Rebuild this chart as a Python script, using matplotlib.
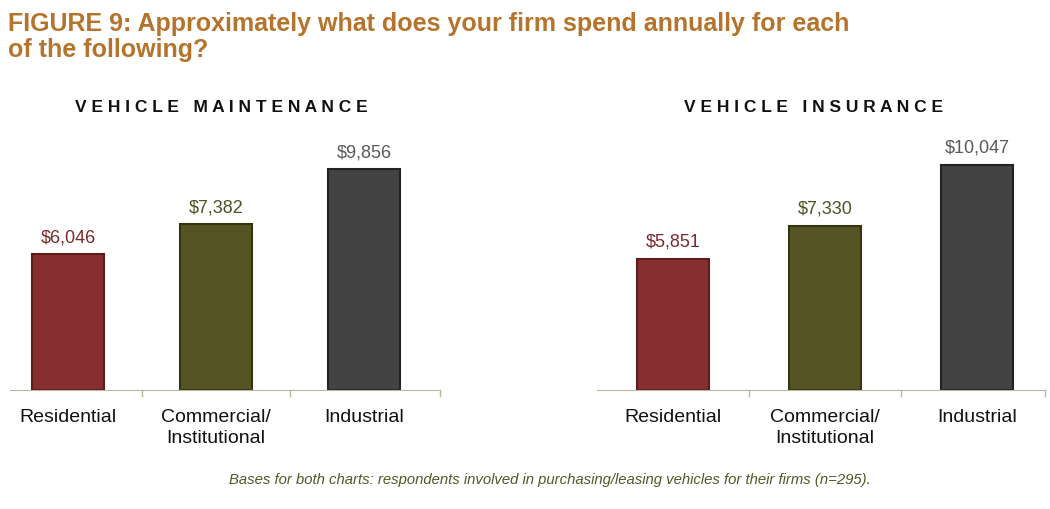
import matplotlib
matplotlib.use("Agg")
import matplotlib.pyplot as plt

categories = ["Residential", "Commercial/\nInstitutional", "Industrial"]
maintenance = [6046, 7382, 9856]
insurance = [5851, 7330, 10047]
colors = ["#872f30", "#545424", "#434343"]
value_colors = ["#7a2a2c", "#4e5224", "#5a5a5a"]

W, H = 1050, 509
fig = plt.figure(figsize=(W/100, H/100), dpi=100)
plt.rcParams["font.family"] = "Liberation Sans"

def make(px0, px1, c0, unit, vals, title, tx):
    bottom = 1 - 390/H
    height = 12000*0.02243/H
    ax = fig.add_axes([px0/W, bottom, (px1-px0)/W, height])
    xl0 = (px0-c0)/unit; xl1 = (px1-c0)/unit
    ax.set_xlim(xl0, xl1); ax.set_ylim(0, 12000)
    x = range(len(vals))
    ax.bar(x, vals, width=0.48, color=colors, edgecolor=["#5e1c1c", "#35350f", "#222222"], linewidth=1.5)
    for i, v in enumerate(vals):
        ax.text(i, v+350, f"${v:,}", ha="center", va="bottom", fontsize=13, color=value_colors[i])
    for s in ["top", "right", "left"]:
        ax.spines[s].set_visible(False)
    ax.spines["bottom"].set_color("#b8b8a0")
    ax.set_yticks([])
    ax.set_xticks(list(x))
    ax.set_xticklabels(categories, fontsize=14, color="#111111", va="top", linespacing=1.3)
    ax.tick_params(axis="x", length=0, pad=14)
    for b in [0.5, 1.5, xl1]:
        ax.plot([b, b], [0, -250], color="#b8b8a0", lw=1, clip_on=False)
    fig.text(tx/W, 1-107/H, " ".join(title), fontsize=12.5, fontweight="bold", ha="center", va="center", color="#111111")
    return ax

make(10, 440, 68, 148, maintenance, "VEHICLE MAINTENANCE", 221)
make(597, 1045, 673, 152, insurance, "VEHICLE INSURANCE", 814)

fig.text(8/W, 1-37/H, "FIGURE 9: Approximately what does your firm spend annually for each\nof the following?",
         fontsize=18, fontweight="bold", color="#b5732c", ha="left", va="center", linespacing=1.15)
fig.text(550/W, 1-480/H, "Bases for both charts: respondents involved in purchasing/leasing vehicles for their firms (n=295).",
         fontsize=10.7, style="italic", color="#4f5a26", ha="center", va="center")
fig.savefig("out.png", dpi=100)
